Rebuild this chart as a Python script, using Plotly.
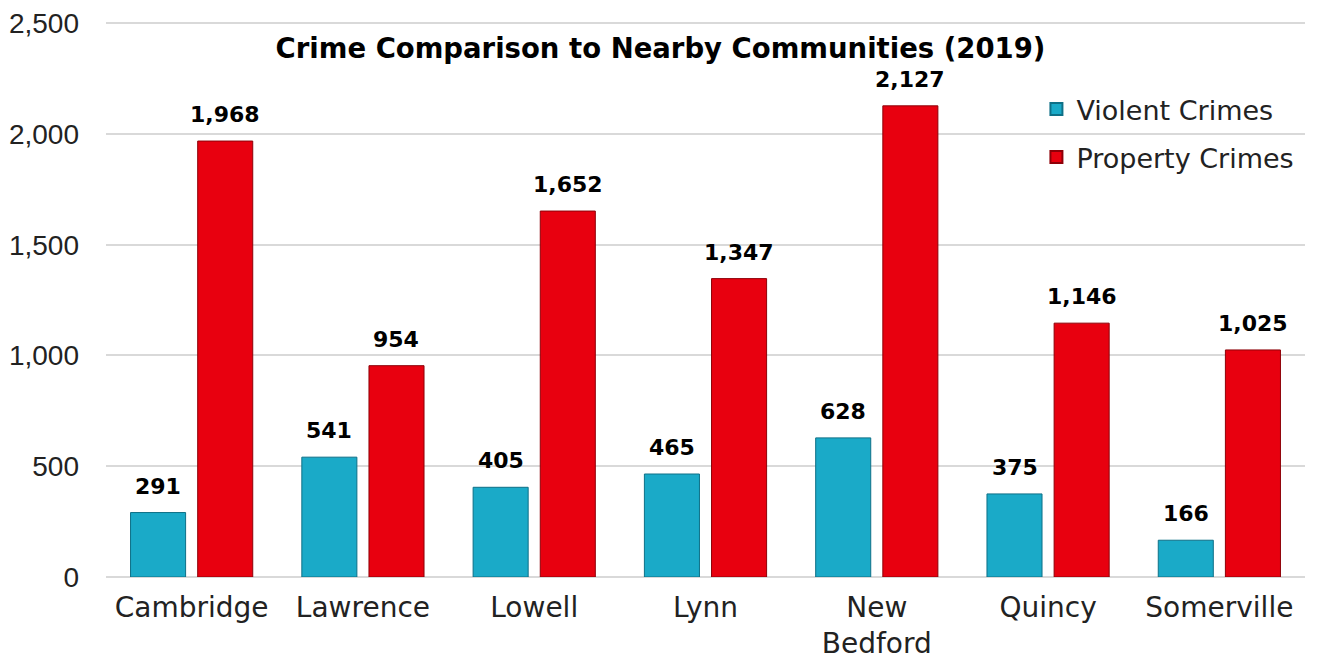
import plotly.graph_objects as go

categories = ["Cambridge", "Lawrence", "Lowell", "Lynn", "New<br>Bedford", "Quincy", "Somerville"]
violent = [291, 541, 405, 465, 628, 375, 166]
property_crimes = [1968, 954, 1652, 1347, 2127, 1146, 1025]
y_ticks = [0, 500, 1000, 1500, 2000, 2500]
y_tick_labels = ["0", "500", "1,000", "1,500", "2,000", "2,500"]

FONT = "DejaVu Sans, Verdana, sans-serif"
label_font = dict(family=FONT, size=22, color="black")

fig = go.Figure()
fig.add_trace(go.Bar(
    x=categories, y=violent, name="Violent Crimes", legendgroup="v",
    marker=dict(color="#1AAAC8", line=dict(color="#0E7087", width=1)),
))
fig.add_trace(go.Bar(
    x=categories, y=property_crimes, name="Property Crimes", legendgroup="p",
    marker=dict(color="#E8000F", line=dict(color="#8E0008", width=1)),
))

# value labels placed from the data arrays, offset to each bar of the group
for series, shift in ((violent, -33.5), (property_crimes, 33.5)):
    for cat, val in zip(categories, series):
        fig.add_annotation(x=cat, y=val, text=f"<b>{val:,}</b>", showarrow=False,
                           xshift=shift, yshift=12, yanchor="bottom",
                           font=label_font)

fig.update_layout(
    width=1319, height=660,
    margin=dict(l=98, r=22, t=13, b=91),
    paper_bgcolor="white", plot_bgcolor="white",
    barmode="group", bargap=0.216, bargroupgap=0.18,
    title=dict(text="<b>Crime Comparison to Nearby Communities (2019)</b>",
               x=0.4947, xref="container", y=1 - 40 / 660, yref="container",
               xanchor="center", yanchor="middle",
               font=dict(family=FONT, size=27.5, color="black")),
    legend=dict(x=0.776, y=0.885, xanchor="left", yanchor="top",
                font=dict(family=FONT, size=27, color="#222"),
                bgcolor="rgba(255,255,255,0)", tracegroupgap=10, itemsizing="constant"),
    showlegend=True,
)
fig.update_yaxes(range=[0, 2510], tickvals=y_ticks, ticktext=y_tick_labels,
                 automargin=False,
                 showgrid=True, gridcolor="#D9D9D9", gridwidth=1.5,
                 zeroline=True, zerolinecolor="#D9D9D9", zerolinewidth=1.5,
                 showline=False, ticks="", ticklabelstandoff=26,
                 tickfont=dict(family="Liberation Sans, Arial, sans-serif", size=28, color="#222"))
fig.update_xaxes(showline=False, ticks="", ticklabelstandoff=11, automargin=False,
                 tickfont=dict(family=FONT, size=28, color="#222"))

fig.write_html("out.html")
